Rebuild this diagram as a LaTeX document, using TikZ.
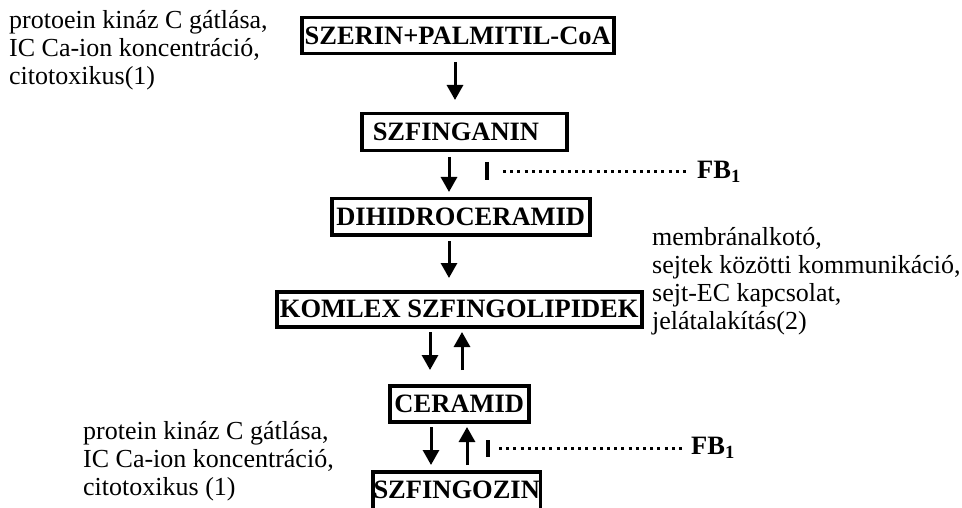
\documentclass[tikz,border=0pt]{standalone}
\usepackage{fontspec}
\setmainfont{Liberation Serif}
\usetikzlibrary{arrows.meta}
\begin{document}
\begin{tikzpicture}[x=1pt,y=-1pt,
  boxtext/.style={inner sep=0pt,anchor=north west,
    font=\bfseries\fontsize{26.5}{28}\selectfont,align=center},
  box/.style={boxtext,draw,line width=3.5pt},
  note/.style={inner sep=0pt,anchor=west,align=left,
    font=\fontsize{26}{28}\selectfont},
  arr/.style={line width=3pt,-{Triangle[width=16pt,length=15pt]}},
  bar/.style={line width=4pt},
  dots/.style={line width=3pt,dash pattern=on 3pt off 4.2pt},
  fb/.style={inner sep=0pt,anchor=west,font=\bfseries\fontsize{26.5}{28}\selectfont}]
\useasboundingbox (0,0) rectangle (962,508);
\clip (0,0) rectangle (962,508);

% boxes
\node[box,minimum width=312pt,minimum height=36pt] (sz) at (300,16) {SZERIN+PALMITIL-CoA};
\node[box,minimum width=205pt,minimum height=37pt,text width=183pt,inner xsep=11pt,align=left] (sg) at (360,112) {SZFINGANIN};
\node[box,minimum width=258pt,minimum height=36pt] (dh) at (330,197) {DIHIDROCERAMID};
\node[box,minimum width=365pt,minimum height=35pt] (ko) at (275,290) {KOMLEX SZFINGOLIPIDEK};
\node[box,minimum width=139pt,minimum height=36pt] (ce) at (388,384) {CERAMID};
\node[boxtext,minimum width=167pt,minimum height=36pt,text depth=0pt] (so) at (373,472) {SZFINGOZIN};
\draw[line width=3.5pt] (so.south west) -- (so.north west) -- (so.north east) -- (so.south east);

% notes
\node[note] (n1) at (9,50) {protoein kináz C gátlása,\\IC Ca-ion koncentráció,\\citotoxikus(1)};
\node[note] (n2) at (652,281) {membránalkotó,\\sejtek közötti kommunikáció,\\sejt-EC kapcsolat,\\jelátalakítás(2)};
\node[note] (n3) at (83,461) {protein kináz C gátlása,\\IC Ca-ion koncentráció,\\citotoxikus (1)};

% arrow end points
\coordinate (a1s) at (455,62);  \coordinate (a1e) at (455,100);
\coordinate (a2s) at (449,157); \coordinate (a2e) at (449,192);
\coordinate (a3s) at (449,241); \coordinate (a3e) at (449,278);
\coordinate (a4s) at (430,332); \coordinate (a4e) at (430,370);
\coordinate (a5s) at (462,370); \coordinate (a5e) at (462,332);
\coordinate (a6s) at (431,427); \coordinate (a6e) at (431,465);
\coordinate (a7s) at (467,465); \coordinate (a7e) at (467,427);

\draw[arr] (a1s) -- (a1e);
\draw[arr] (a2s) -- (a2e);
\draw[arr] (a3s) -- (a3e);
\draw[arr] (a4s) -- (a4e);
\draw[arr] (a5s) -- (a5e);
\draw[arr] (a6s) -- (a6e);
\draw[arr] (a7s) -- (a7e);

% inhibition FB1
\coordinate (b1t) at (487,162); \coordinate (b1b) at (487,180);
\draw[bar] (b1t) -- (b1b);
\node[fb] (fb1) at (697,172) {FB\textsubscript{1}};
\coordinate (d1s) at (503,172);
\draw[dots,shorten >=8pt] (d1s) -- (fb1.west);

\coordinate (b2t) at (488,440); \coordinate (b2b) at (488,457);
\draw[bar] (b2t) -- (b2b);
\node[fb] (fb2) at (691,448) {FB\textsubscript{1}};
\coordinate (d2s) at (499,448);
\draw[dots,shorten >=6pt] (d2s) -- (fb2.west);
\end{tikzpicture}
\end{document}
